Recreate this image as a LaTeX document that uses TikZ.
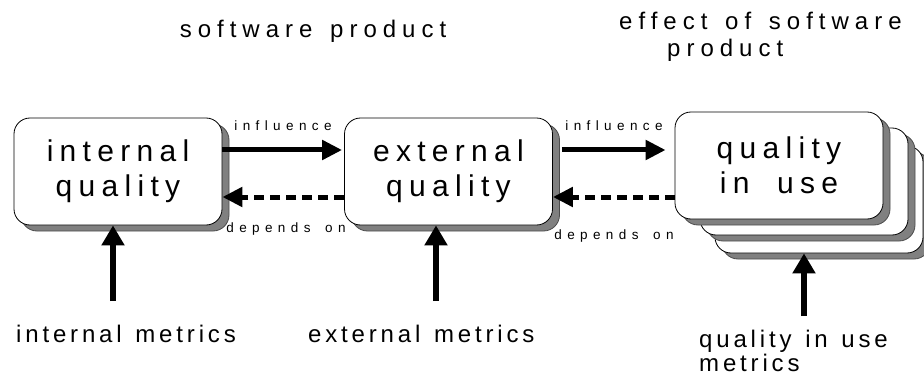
\documentclass[tikz,border=0pt]{standalone}
\usepackage{fontspec}
\usetikzlibrary{arrows.meta,shadows}
\newfontfamily\boxfont[LetterSpace=21,WordSpace=1.9]{Liberation Sans}
\newfontfamily\lblfont[LetterSpace=40,WordSpace=1.6]{Liberation Sans}
\newfontfamily\metfont[LetterSpace=16,WordSpace=1.3]{Liberation Sans}
\newfontfamily\headfont[LetterSpace=25,WordSpace=1.4]{Liberation Sans}
\begin{document}
\begin{tikzpicture}[x=1pt,y=-1pt,
  qbox/.style={draw=black, line width=0.8pt, fill=white, rounded corners=16pt,
    minimum width=208pt, minimum height=107pt, inner sep=0pt, align=center,
    font=\boxfont\fontsize{30}{35}\selectfont,
    drop shadow={shadow xshift=7pt, shadow yshift=-6pt, fill=black!50, draw=black!70, opacity=1}},
  inf/.style={line width=5pt, -{Triangle[length=20pt,width=19pt]}},
  dep/.style={line width=5pt, dash pattern=on 10pt off 6pt, -{Triangle[length=20pt,width=19pt]}},
  up/.style={line width=6pt, -{Triangle[length=20pt,width=22pt]}},
  lbl/.style={font=\lblfont\fontsize{13.5}{16}\selectfont, inner sep=0pt},
  mettxt/.style={font=\metfont\fontsize{24}{26}\selectfont, inner sep=0pt, anchor=base},
  headtxt/.style={font=\headfont\fontsize{24}{26}\selectfont, inner sep=0pt, anchor=base}
]
\useasboundingbox (0,0) rectangle (924,377);

% stacked boxes behind the quality-in-use box
\node[qbox] (qu3) at (819,199.5) {};
\node[qbox] (qu2) at (804,181.5) {};

% the three quality boxes
\node[qbox] (iq) at (118,171.5) {internal\\quality};
\node[qbox] (eq) at (448.5,171.5) {external\\quality};
\node[qbox] (qu) at (779,165.5) {quality\\in use};

% influence / depends-on links
\coordinate (i1) at ([yshift=21.5pt]iq.east);
\coordinate (d1) at ([yshift=-25.5pt]eq.west);
\draw[inf, shorten >=2pt] (i1) -- (i1 -| eq.west);
\draw[dep] (d1) -- (d1 -| iq.east);

\coordinate (i2) at ([xshift=9pt,yshift=21.5pt]eq.east);
\coordinate (d2) at ([yshift=-25.5pt]eq.east);
\draw[inf, shorten >=9pt] (i2) -- (i2 -| qu.west);
\draw[dep] (d2 -| qu.west) -- (d2);

\node[lbl] (l1) at (283,126) {influence};
\node[lbl] (l2) at (286,229) {depends on};
\node[lbl] (l3) at (614,126) {influence};
\node[lbl] (l4) at (614,236) {depends on};

% metrics feeding each quality
\coordinate (m1) at (113,301);
\coordinate (m2) at (436,301);
\coordinate (m3) at (804,316);
\draw[up] (m1) -- (m1 |- iq.south);
\draw[up] (m2) -- (m2 |- eq.south);
\draw[up] (m3) -- (m3 |- qu3.south);

\node[mettxt] (t1) at (126,342) {internal metrics};
\node[mettxt, anchor=base west] (t2) at (308,342) {external metrics};
\node[mettxt, anchor=base west] (t3) at (699,347) {quality in use};
\node[mettxt, anchor=base west] (t4) at (699,371) {metrics};

% headings
\node[headtxt] (h1) at (313,38) {software product};
\node[headtxt, anchor=base west] (h2) at (619,30) {effect of software};
\node[headtxt, anchor=base west] (h3) at (667,57) {product};
\end{tikzpicture}
\end{document}
